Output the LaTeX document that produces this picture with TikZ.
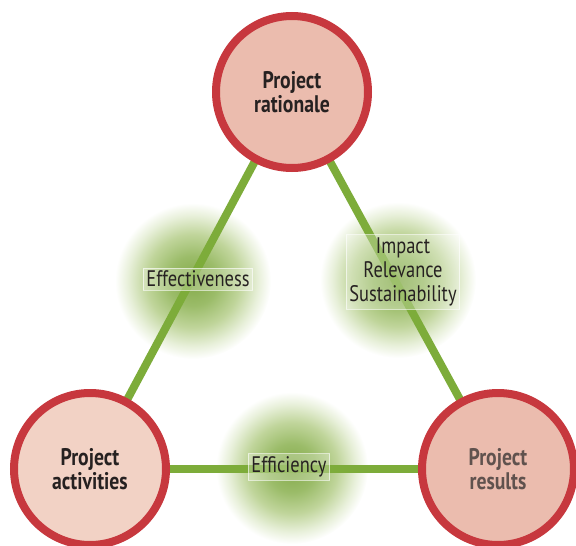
\documentclass[tikz,border=0pt]{standalone}
\usepackage{fontspec}
\setmainfont{PT Sans}[FakeStretch=0.82]
\usetikzlibrary{backgrounds}
\definecolor{ring}{RGB}{199,56,62}
\definecolor{fillA}{RGB}{235,188,174}
\definecolor{fillB}{RGB}{242,210,197}
\definecolor{lineg}{RGB}{125,172,58}
\definecolor{txt}{RGB}{38,33,33}
\definecolor{txtg}{RGB}{96,82,78}
\definecolor{ga}{RGB}{132,170,74}
\definecolor{gb}{RGB}{155,188,105}
\definecolor{gc}{RGB}{192,213,155}
\definecolor{gd}{RGB}{232,240,218}
\pgfdeclareradialshading{glow}{\pgfpoint{0bp}{0bp}}{color(0bp)=(ga); color(8bp)=(gb); color(15bp)=(gc); color(21bp)=(gd); color(25bp)=(white); color(50bp)=(white)}
\tikzset{
  bigc/.style={circle, draw=ring, line width=8pt, minimum size=152pt, inner sep=0pt,
    align=center, text=txt, font=\fontsize{24}{24}\selectfont\bfseries},
  lab/.style={rectangle, fill=white, fill opacity=0.25, text opacity=1, draw=white, draw opacity=0.6,
    line width=0.8pt, align=center, text=txt, inner sep=3pt, font=\fontsize{22.5}{24}\selectfont},
  link/.style={draw=lineg, line width=8pt},
  glowc/.style={shading=glow}
}
\begin{document}
\begin{tikzpicture}[x=1pt,y=-1pt]
\useasboundingbox (0,0) rectangle (576,546);
\node[bigc, fill=fillA] (R) at (292,92) {Project\\rationale};
\node[bigc, fill=fillB] (A) at (90,469) {Project\\activities};
\node[bigc, fill=fillA, text=txtg] (S) at (498,469) {Project\\results};
\node[lab] (eff) at (198,279) {Effectiveness};
\node[lab] (imp) at (403,272) {Impact\\Relevance\\Sustainability};
\node[lab] (efc) at (289,467) {Efficiency};
\begin{scope}[on background layer]
  \shade[glowc] (193,281) circle (78);
  \shade[glowc] (398,280) circle (78);
  \shade[glowc] (292,468) circle (76);
  \draw[link] (R.center) -- (A.center);
  \draw[link] (R.center) -- (S.center);
  \draw[link] (A.center) -- (S.center);
\end{scope}
\end{tikzpicture}
\end{document}
